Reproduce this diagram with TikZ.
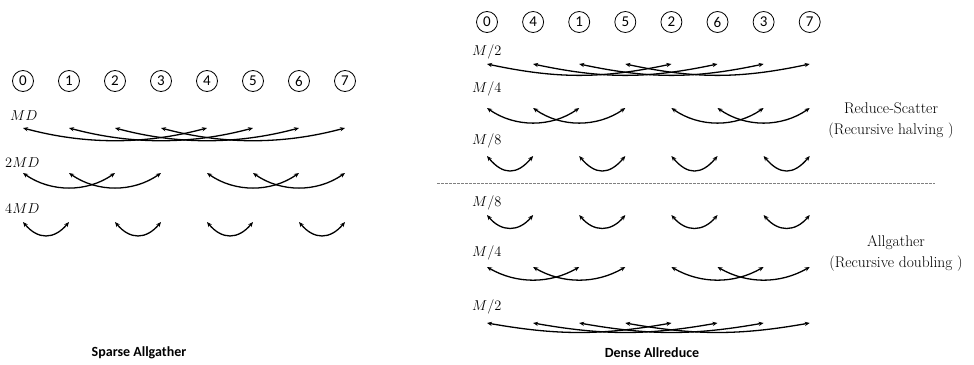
\documentclass[tikz,border=0pt]{standalone}
\usepackage{fontspec}
\newfontfamily\calib{Carlito}
\usetikzlibrary{arrows.meta}
\begin{document}
\begin{tikzpicture}[x=1pt,y=1pt,
  rank/.style={draw,circle,line width=0.8pt,minimum size=21pt,inner sep=0pt,font=\calib\fontsize{15}{15}\selectfont},
  msg/.style={line width=1.3pt,{Stealth[length=5pt,width=4.2pt]}-{Stealth[length=5pt,width=4.2pt]}},
  sizelabel/.style={anchor=west,inner sep=0pt,font=\fontsize{14}{14}\selectfont},
  phase/.style={align=center,font=\fontsize{15.5}{21}\selectfont},
  title/.style={font=\calib\bfseries\fontsize{14}{14}\selectfont}]
\useasboundingbox (0,0) rectangle (974,-364);

% ---------- Sparse Allgather ----------
\foreach \i in {0,...,7}
  \node[rank] (L\i) at ({23+46*\i},-81) {\i};

\node[sizelabel] (lmd)  at (10,-116) {$MD$};
\node[sizelabel] (l2md) at (5,-163)  {$2MD$};
\node[sizelabel] (l4md) at (5,-209)  {$4MD$};

\foreach \i in {0,...,7} {
  \coordinate (la\i) at (L\i |- 0,-128);
  \coordinate (lb\i) at (L\i |- 0,-173);
  \coordinate (lc\i) at (L\i |- 0,-222);
}
\foreach \a/\b in {0/4,1/5,2/6,3/7}
  \draw[msg] (la\a) to[out=-15,in=195,looseness=0.9] (la\b);
\foreach \a/\b in {0/2,1/3,4/6,5/7}
  \draw[msg] (lb\a) to[out=-35,in=215,looseness=0.95] (lb\b);
\foreach \a/\b in {0/1,2/3,4/5,6/7}
  \draw[msg] (lc\a) to[out=-50,in=230,looseness=1.3] (lc\b);

\node[title] (ltitle) at (139,-353) {Sparse Allgather};

% ---------- Dense Allreduce ----------
\foreach \r [count=\p from 0] in {0,4,1,5,2,6,3,7}
  \node[rank] (R\p) at ({487+46.1*\p},-22) {\r};

\node[sizelabel] (rs2) at (472,-52)  {$M/2$};
\node[sizelabel] (rs4) at (472,-89)  {$M/4$};
\node[sizelabel] (rs8) at (472,-141) {$M/8$};
\node[sizelabel] (ag8) at (472,-203) {$M/8$};
\node[sizelabel] (ag4) at (472,-253) {$M/4$};
\node[sizelabel] (ag2) at (472,-307) {$M/2$};

\foreach \i in {0,...,7} {
  \coordinate (ra\i) at (R\i |- 0,-64);
  \coordinate (rb\i) at (R\i |- 0,-108);
  \coordinate (rc\i) at (R\i |- 0,-156);
  \coordinate (rd\i) at (R\i |- 0,-215);
  \coordinate (re\i) at (R\i |- 0,-267);
  \coordinate (rf\i) at (R\i |- 0,-323);
}
% reduce-scatter: recursive halving
\foreach \a/\b in {0/4,1/5,2/6,3/7}
  \draw[msg] (ra\a) to[out=-12,in=192] (ra\b);
\foreach \a/\b in {0/2,1/3,4/6,5/7}
  \draw[msg] (rb\a) to[out=-35,in=215,looseness=0.95] (rb\b);
\foreach \a/\b in {0/1,2/3,4/5,6/7}
  \draw[msg] (rc\a) to[out=-50,in=230,looseness=1.4] (rc\b);

% phase separator
\coordinate (sepL) at (437,-183);
\coordinate (sepR) at (935,-183);
\draw[gray,line width=0.6pt,dash pattern=on 2.5pt off 1.5pt] (sepL) -- (sepR);

% allgather: recursive doubling
\foreach \a/\b in {0/1,2/3,4/5,6/7}
  \draw[msg] (rd\a) to[out=-50,in=230,looseness=1.25] (rd\b);
\foreach \a/\b in {0/2,1/3,4/6,5/7}
  \draw[msg] (re\a) to[out=-30,in=210,looseness=0.95] (re\b);
\foreach \a/\b in {0/4,1/5,2/6,3/7}
  \draw[msg] (rf\a) to[out=-10,in=190] (rf\b);

\node[phase] (rsname) at (891,-121) {Reduce-Scatter\\(Recursive halving )};
\node[phase] (agname) at (896,-253) {Allgather\\(Recursive doubling )};

\node[title] (rtitle) at (652,-353) {Dense Allreduce};
\end{tikzpicture}
\end{document}
